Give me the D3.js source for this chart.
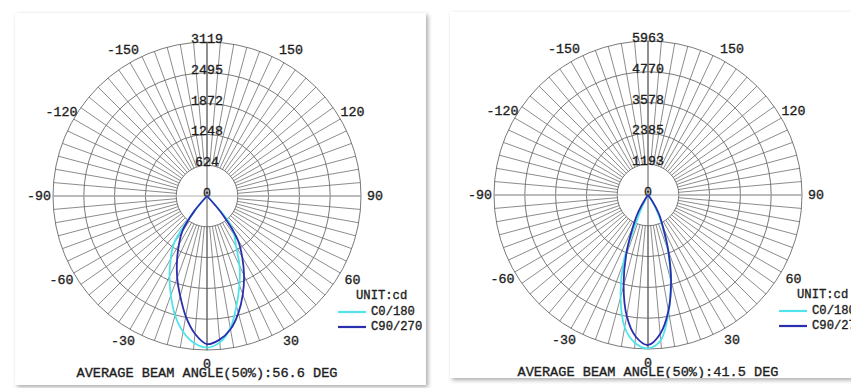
<!DOCTYPE html>
<html><head><meta charset="utf-8">
<script src="https://cdn.jsdelivr.net/npm/d3@7/dist/d3.min.js"></script>
<style>
body{margin:0;background:#fff}
svg{display:block}
text{font-family:"Liberation Mono","Courier New",monospace;fill:#1e1e1e;stroke:#1e1e1e;stroke-width:0.35px}
</style>
</head><body>
<svg id="c" width="851" height="388"></svg>
<script>
// gamma angles (deg), 0 = straight down, positive = right side
const angles = [-90,-85,-80,-75,-70,-65,-60,-55,-50,-45,-40,-35,-30,-25,-20,-15,-10,-5,0,5,10,15,20,25,30,35,40,45,50,55,60,65,70,75,80,85,90];

// Left chart (cd)
const leftC0_180 = [0,0,0,0,0,0,0,0,0,0,380,1160,1470,1800,2140,2500,2790,2990,3070,2976,2720,2306,1920,1560,1180,960,700,0,0,0,0,0,0,0,0,0,0];
const leftC90_270 = [0,0,0,0,0,0,0,0,0,0,400,870,1137,1435,1765,2097,2475,2800,3000,2920,2740,2455,2120,1775,1425,1090,500,0,0,0,0,0,0,0,0,0,0];
const leftRingLabels = ["0","624","1248","1872","2495","3119"];
const leftMax = 3119;
const leftTitle = "AVERAGE BEAM ANGLE(50%):56.6 DEG";

// Right chart (cd)
const rightC0_180 = [0,0,0,0,0,0,0,0,0,0,0,60,200,800,2750,4100,5200,5750,5936,5650,4600,3400,2250,1300,650,200,0,0,0,0,0,0,0,0,0,0,0];
const rightC90_270 = [0,0,0,0,0,0,0,0,0,0,0,150,750,1420,2480,3650,4750,5500,5807,5400,4550,3450,2300,1380,850,300,0,0,0,0,0,0,0,0,0,0,0];
const rightRingLabels = ["0","1193","2385","3578","4770","5963"];
const rightMax = 5963;
const rightTitle = "AVERAGE BEAM ANGLE(50%):41.5 DEG";

const angleLabels = ["0","30","60","90","120","150","-150","-120","-90","-60","-30"];
const seriesNames = ["C0/180","C90/270"];
const seriesColors = ["#4fe4ec","#2a2fae"];
const unitLabel = "UNIT:cd";

const svg = d3.select("#c");
const defs = svg.append("defs");
const f = defs.append("filter").attr("id","blur").attr("x","-10%").attr("y","-10%").attr("width","120%").attr("height","120%");
f.append("feGaussianBlur").attr("stdDeviation",2.2);

function panel(x,y,w,h,clipId){
  svg.append("rect").attr("x",x+2).attr("y",y+2).attr("width",w).attr("height",h)
    .attr("fill","#8c8c8c").attr("opacity",0.75).attr("filter","url(#blur)");
  svg.append("rect").attr("x",x).attr("y",y).attr("width",w).attr("height",h).attr("fill","#fff");
  defs.append("clipPath").attr("id",clipId).append("rect").attr("x",x).attr("y",y).attr("width",w-4).attr("height",h);
}
panel(15,13,411,372,"clipL");
panel(450,12,420,366,"clipR");

function drawChart(cx, cy, max, ringLabels, c0, c90, title, clipId){
  const R = 154, labR = 168;
  const g = svg.append("g").attr("clip-path","url(#"+clipId+")").append("g").attr("transform",`translate(${cx},${cy})`);
  const r = d3.scaleLinear().domain([0,max]).range([0,R]);
  const ringVals = ringLabels.map(Number);
  const inner = r(ringVals[1]);
  const toXY = (deg, rad) => { const t = deg*Math.PI/180; return [rad*Math.sin(t), rad*Math.cos(t)]; };

  // spokes
  const spokes = d3.range(0,360,5);
  g.selectAll(".sp").data(spokes).join("line")
    .attr("x1",d=>toXY(d,inner)[0]).attr("y1",d=>toXY(d,inner)[1])
    .attr("x2",d=>toXY(d,R)[0]).attr("y2",d=>toXY(d,R)[1])
    .attr("stroke","#6e6e6e").attr("stroke-width",0.8);
  // rings
  g.selectAll(".ring").data(ringVals.slice(1)).join("circle")
    .attr("r",d=>r(d)).attr("fill","none").attr("stroke","#6a6a6a").attr("stroke-width",0.9);
  // main axes
  g.append("line").attr("x1",-R).attr("x2",R).attr("y1",0).attr("y2",0).attr("stroke","#b0b0b0").attr("stroke-width",1);
  g.append("line").attr("x1",0).attr("x2",0).attr("y1",-R).attr("y2",R).attr("stroke","#5a5a5a").attr("stroke-width",1);

  // ring value labels
  g.selectAll(".rl").data(ringLabels).join("text")
    .attr("x",0).attr("y",d=>-r(+d)+1)
    .attr("text-anchor","middle").attr("font-size",13.3).text(d=>d);

  // angle labels
  g.selectAll(".al").data(angleLabels).join("text")
    .attr("x",d=>toXY(+d,labR)[0]).attr("y",d=>toXY(+d,labR)[1])
    .attr("text-anchor","middle").attr("dominant-baseline","central")
    .attr("font-size",13.3).text(d=>d);

  // curves
  const line = d3.lineRadial()
    .angle(d=>Math.PI - d.a*Math.PI/180)
    .radius(d=>r(d.v))
    .curve(d3.curveCatmullRom.alpha(0.5));
  [c0,c90].forEach((vals,i)=>{
    const pts = angles.map((a,j)=>({a, v: vals[j]}));
    g.append("path").attr("d",line(pts)).attr("fill","none")
      .attr("stroke",seriesColors[i]).attr("stroke-width",1.8).attr("stroke-linejoin","round");
  });

  // legend
  g.append("text").attr("x",149).attr("y",100).attr("dominant-baseline","central")
    .attr("font-size",12.2).text(unitLabel);
  seriesNames.forEach((n,i)=>{
    const yy = 116 + i*15;
    g.append("line").attr("x1",131).attr("x2",159).attr("y1",yy).attr("y2",yy)
      .attr("stroke",seriesColors[i]).attr("stroke-width",2.2);
    g.append("text").attr("x",164).attr("y",yy).attr("dominant-baseline","central")
      .attr("font-size",12.2).text(n);
  });

  // title
  g.append("text").attr("x",0).attr("y",177).attr("text-anchor","middle").attr("dominant-baseline","central")
    .attr("font-size",13.6).text(title);
}

drawChart(207,196,leftMax,leftRingLabels,leftC0_180,leftC90_270,leftTitle,"clipL");
drawChart(648,195,rightMax,rightRingLabels,rightC0_180,rightC90_270,rightTitle,"clipR");
</script>
</body></html>
